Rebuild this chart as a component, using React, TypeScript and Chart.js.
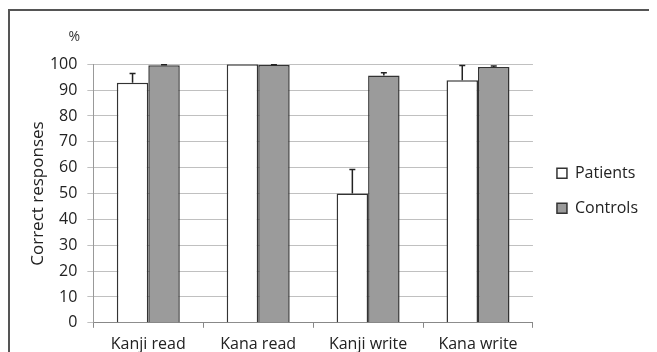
import React, { useEffect, useRef } from "react";
import { Chart, registerables } from "chart.js";

Chart.register(...registerables);

const categories = ["Kanji read", "Kana read", "Kanji write", "Kana write"];
const patients = [92.9, 100, 50, 93.8];
const patientsErr = [3.5, 0, 9.3, 5.7];
const controls = [99.6, 99.7, 95.7, 99.0];
const controlsErr = [0.2, 0.1, 1.0, 0.3];
const seriesNames = ["Patients", "Controls"];
const yTitle = "Correct responses";
const unitLabel = "%";

const FONT = "'Open Sans', sans-serif";

const errorBarPlugin = {
  id: "errorBars",
  afterDatasetsDraw(chart: any) {
    const ctx = chart.ctx;
    const yScale = chart.scales.y;
    const errs = [patientsErr, controlsErr];
    chart.data.datasets.forEach((ds: any, di: number) => {
      const meta = chart.getDatasetMeta(di);
      meta.data.forEach((bar: any, i: number) => {
        const e = errs[di][i];
        if (!e) return;
        const v = ds.data[i];
        const yTop = yScale.getPixelForValue(v + e);
        const yBase = yScale.getPixelForValue(v);
        ctx.save();
        ctx.strokeStyle = "#222";
        ctx.lineWidth = 1.5;
        ctx.beginPath();
        ctx.moveTo(bar.x, yBase);
        ctx.lineTo(bar.x, yTop);
        ctx.moveTo(bar.x - 3, yTop);
        ctx.lineTo(bar.x + 3, yTop);
        ctx.stroke();
        ctx.restore();
      });
    });
  },
};

const unitPlugin = {
  id: "unitLabel",
  afterLayout(chart: any) {
    if (chart.legend) {
      chart.legend.left += 5;
      chart.legend.right += 5;
      chart.legend.top -= 22;
      chart.legend.bottom -= 22;
    }
  },
  afterDraw(chart: any) {
    const ctx = chart.ctx;
    const y = chart.scales.y;
    ctx.save();
    ctx.fillStyle = "#333";
    ctx.font = `14px ${FONT}`;
    ctx.textAlign = "center";
    ctx.textBaseline = "middle";
    ctx.fillText(unitLabel, y.right - 19, chart.chartArea.top - 27);
    ctx.restore();
  },
};

export default function App() {
  const ref = useRef<HTMLCanvasElement | null>(null);
  useEffect(() => {
    document.body.style.overflow = "hidden";
    const chart = new Chart(ref.current as HTMLCanvasElement, {
      type: "bar",
      data: {
        labels: categories,
        datasets: [
          {
            label: seriesNames[0],
            data: patients,
            backgroundColor: "#ffffff",
            borderColor: "#333333",
            borderWidth: 1.5,
            categoryPercentage: 0.573,
            barPercentage: 1,
          },
          {
            label: seriesNames[1],
            data: controls,
            backgroundColor: "#9b9b9b",
            borderColor: "#333333",
            borderWidth: 1.5,
            categoryPercentage: 0.573,
            barPercentage: 1,
          },
        ],
      },
      options: {
        animation: false,
        responsive: false,
        layout: { padding: { top: 53.3, left: 18, right: 14, bottom: 8 } },
        plugins: {
          tooltip: { enabled: false },
          legend: {
            position: "right",
            labels: {
              boxWidth: 10,
              boxHeight: 10,
              padding: 19,
              color: "#222",
              font: { family: FONT, size: 16 },
              generateLabels: (chart: any) =>
                chart.data.datasets.map((ds: any, i: number) => ({
                  text: ds.label,
                  fillStyle: ds.backgroundColor,
                  strokeStyle: "#333",
                  lineWidth: 1.5,
                  datasetIndex: i,
                  fontColor: "#222",
                })),
            },
          },
        },
        scales: {
          x: {
            grid: {
              display: true,
              drawOnChartArea: false,
              drawTicks: true,
              tickLength: 5,
              color: "#888",
            },
            border: { display: true, color: "#888", width: 1 },
            ticks: { color: "#222", font: { family: FONT, size: 16 }, padding: 7 },
          },
          y: {
            min: 0,
            max: 100,
            ticks: {
              stepSize: 10,
              color: "#222",
              font: { family: FONT, size: 16 },
              padding: 10,
            },
            grid: { color: "#c0c0c0", tickLength: 6, drawTicks: true },
            border: { display: true, color: "#999", width: 1 },
            title: {
              display: true,
              text: yTitle,
              color: "#222",
              font: { family: FONT, size: 17 },
              padding: { top: 0, bottom: -8.5 },
            },
          },
        },
      },
      plugins: [errorBarPlugin, unitPlugin],
    });
    return () => chart.destroy();
  }, []);
  return (
    <div
      style={{
        width: 649,
        height: 360,
        borderTop: "2px solid #555",
        borderLeft: "2px solid #555",
        boxSizing: "border-box",
        marginTop: 1,
      }}
    >
      <canvas ref={ref} width={647} height={358} style={{ display: "block" }} />
    </div>
  );
}
